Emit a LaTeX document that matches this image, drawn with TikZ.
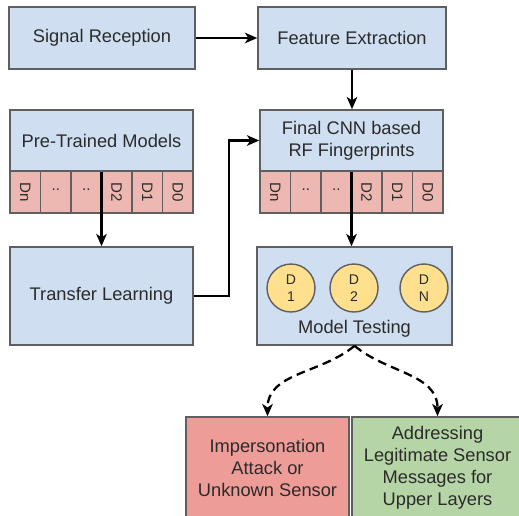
\documentclass[tikz,border=0pt]{standalone}
\usepackage{fontspec}
\setmainfont{Liberation Sans}
\usetikzlibrary{arrows.meta}
\definecolor{boxblue}{HTML}{CFDFF1}
\definecolor{cellred}{HTML}{EDB8B2}
\definecolor{badred}{HTML}{EE9C98}
\definecolor{goodgreen}{HTML}{B5D5A6}
\definecolor{dyellow}{HTML}{FEE08E}
\definecolor{edge}{HTML}{5F5F5F}
\definecolor{txt}{HTML}{2B2B2B}
\tikzset{
  box/.style={draw=edge,line width=0.9pt,fill=boxblue,text=txt,align=center,
    font=\fontsize{10.4}{12.5}\selectfont,inner sep=0pt},
  cell/.style={draw=edge,line width=0.9pt,fill=cellred,text=txt,inner sep=0pt,
    minimum width=0.61cm,minimum height=0.84cm,font=\fontsize{8.6}{9}\selectfont},
  dnet/.style={circle,draw=edge,line width=0.8pt,fill=dyellow,text=txt,align=center,
    minimum size=0.96cm,inner sep=0pt,font=\fontsize{8}{9.5}\selectfont},
  flow/.style={-{Stealth[length=7pt,width=6pt,inset=2pt]},line width=1.3pt},
  maybe/.style={flow,dashed,dash pattern=on 5pt off 3pt}
}
\begin{document}
\begin{tikzpicture}[x=0.02cm,y=-0.02cm]
\clip (0,0) rectangle (519,515);
\fill[white] (0,0) rectangle (519,515);
% top row
\node[box,minimum width=3.72cm,minimum height=1.24cm] (sig) at (102,38) {Signal Reception};
\node[box,minimum width=3.76cm,minimum height=1.24cm] (feat) at (352,38) {Feature Extraction};
% models with their class strips
\node[box,minimum width=3.66cm,minimum height=1.22cm] (pre) at (101.5,140.5) {Pre-Trained Models};
\node[box,minimum width=3.66cm,minimum height=1.22cm] (cnn) at (351.5,140.5) {Final CNN based\\RF Fingerprints};
\foreach \lab [count=\i] in {Dn,..,..,D2,D1,D0} {
  \pgfmathsetmacro{\cx}{10+30.5*(\i-0.5)}
  \ifnum\i=2 \def\cellt{\raisebox{0.25em}{\lab}}\else\ifnum\i=3 \def\cellt{\raisebox{0.25em}{\lab}}\else\def\cellt{\rotatebox{-90}{\lab}}\fi\fi
  \node[cell] (p\i) at (\cx,192) {\cellt};
  \node[cell] (c\i) at (\cx+250,192) {\cellt};
}
% middle row
\node[box,minimum width=3.66cm,minimum height=1.96cm] (tl) at (101.5,296) {Transfer Learning};
\node[box,minimum width=3.9cm,minimum height=1.96cm] (mt) at (354.5,296) {};
\node[dnet] (d1) at (291,288) {D\\1};
\node[dnet] (d2) at (354,288) {D\\2};
\node[dnet] (dn) at (424,288) {D\\N};
\node[text=txt,font=\fontsize{10.4}{12.5}\selectfont] (mtlab) at (354.5,329) {Model Testing};
% outcomes
\node[box,fill=badred,minimum width=3.26cm,minimum height=2.04cm] (att) at (267.5,468)
  {Impersonation\\Attack or\\Unknown Sensor};
\node[box,fill=goodgreen,minimum width=3.42cm,minimum height=2.04cm] (leg) at (437.5,468)
  {Addressing\\Legitimate Sensor\\Messages for\\Upper Layers};
% connectors
\draw[flow] (sig) -- (feat);
\draw[flow] (feat.south) -- (feat.south |- cnn.north);
\draw[flow] (pre.south) -- (pre.south |- tl.north);
\draw[flow] (tl.east) -- ++(35,0) |- (cnn.west);
\draw[flow] (cnn.south) -- (cnn.south |- mt.north);
\draw[maybe] (mt.south) to[out=-140,in=90] (att.north);
\draw[maybe] (mt.south) to[out=-40,in=90] (leg.north);
\end{tikzpicture}
\end{document}
